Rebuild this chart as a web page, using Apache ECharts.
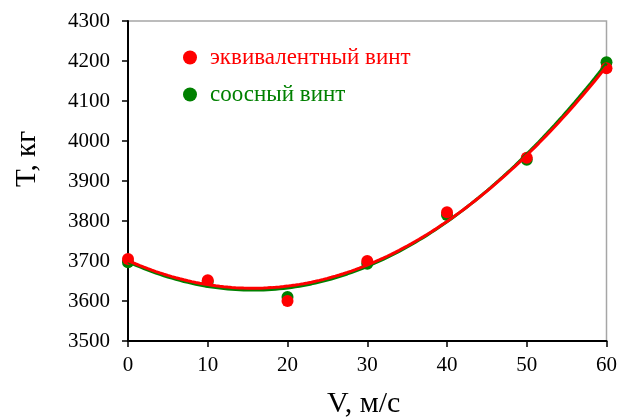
<!DOCTYPE html>
<html><head><meta charset="utf-8">
<script src="https://cdn.jsdelivr.net/npm/echarts@6/dist/echarts.min.js"></script>
<style>html,body{margin:0;padding:0;background:#fff}#c{width:620px;height:419px}</style>
</head><body><div id="c"></div>
<script>
const speeds = [0, 10, 20, 30, 40, 50, 60];
const thrustEquivalent = [3705, 3652, 3600, 3700, 3822, 3958, 4182];
const thrustCoaxial = [3697, 3648, 3610, 3693, 3815, 3953, 4197];
const nameEquivalent = 'эквивалентный винт';
const nameCoaxial = 'соосный винт';
const xTitle = 'V, м/с';
const yTitle = 'T, кг';

function quadFit(xs, ys) {
  let n = xs.length, s = [0,0,0,0,0], t = [0,0,0];
  for (let i = 0; i < n; i++) {
    let x = xs[i], y = ys[i];
    for (let k = 0; k < 5; k++) s[k] += Math.pow(x, k);
    for (let k = 0; k < 3; k++) t[k] += y * Math.pow(x, k);
  }
  const A = [[s[0], s[1], s[2], t[0]], [s[1], s[2], s[3], t[1]], [s[2], s[3], s[4], t[2]]];
  for (let i = 0; i < 3; i++) {
    for (let j = i + 1; j < 3; j++) {
      const f = A[j][i] / A[i][i];
      for (let k = i; k < 4; k++) A[j][k] -= f * A[i][k];
    }
  }
  const c = [0, 0, 0];
  for (let i = 2; i >= 0; i--) {
    let v = A[i][3];
    for (let k = i + 1; k < 3; k++) v -= A[i][k] * c[k];
    c[i] = v / A[i][i];
  }
  return c;
}
function trend(xs, ys) {
  const c = quadFit(xs, ys);
  const out = [];
  for (let x = xs[0]; x <= xs[xs.length - 1] + 1e-9; x += 0.5) out.push([x, c[0] + c[1] * x + c[2] * x * x]);
  return out;
}
const pts = (xs, ys) => xs.map((x, i) => [x, ys[i]]);

const font = 'Liberation Serif';
const chart = echarts.init(document.getElementById('c'));
chart.setOption({
  animation: false,
  grid: { left: 128, right: 12, top: 21, bottom: 78, show: true, borderColor: '#a6a6a6', borderWidth: 1.5 },
  legend: {
    orient: 'vertical', left: 178, top: 41, itemGap: 14, itemWidth: 14, itemHeight: 14,
    icon: 'circle',
    data: [
      { name: nameEquivalent, textStyle: { color: '#ff0000' } },
      { name: nameCoaxial, textStyle: { color: '#008000' } }
    ],
    textStyle: { fontFamily: font, fontSize: 23, padding: [0, 0, 0, 8] }
  },
  graphic: [
    { type: 'text', left: 327, top: 389, style: { text: xTitle, font: '30px "Liberation Serif"', fill: '#000' } },
    { type: 'text', x: 13, y: 187, rotation: Math.PI / 2, style: { text: yTitle, font: '29px "Liberation Serif"', fill: '#000' } }
  ],
  xAxis: {
    type: 'value', min: 0, max: 60, interval: 10,
    axisLine: { lineStyle: { color: '#000', width: 2 } },
    axisTick: { inside: false, length: 6, lineStyle: { color: '#000', width: 1.5 } },
    axisLabel: { fontFamily: font, fontSize: 21, color: '#000', margin: 14 },
    splitLine: { show: false }
  },
  yAxis: {
    type: 'value', min: 3500, max: 4300, interval: 100,
    axisLine: { show: true, lineStyle: { color: '#000', width: 2 } },
    axisTick: { show: true, inside: false, length: 6, lineStyle: { color: '#000', width: 1.5 } },
    axisLabel: { fontFamily: font, fontSize: 21, color: '#000', margin: 18, formatter: v => String(v) },
    splitLine: { show: false }
  },
  series: [
    { name: nameCoaxial, type: 'scatter', data: pts(speeds, thrustCoaxial), symbolSize: 12, itemStyle: { color: '#008000', opacity: 1 }, z: 2 },
    { name: nameEquivalent, type: 'scatter', data: pts(speeds, thrustEquivalent), symbolSize: 12, itemStyle: { color: '#ff0000', opacity: 1 }, z: 3 },
    { name: 'trendCoaxial', type: 'line', data: trend(speeds, thrustCoaxial), showSymbol: false, lineStyle: { color: '#008000', width: 3 }, z: 4 },
    { name: 'trendEquivalent', type: 'line', data: trend(speeds, thrustEquivalent), showSymbol: false, lineStyle: { color: '#ff0000', width: 3 }, z: 5 }
  ]
});
</script></body></html>
